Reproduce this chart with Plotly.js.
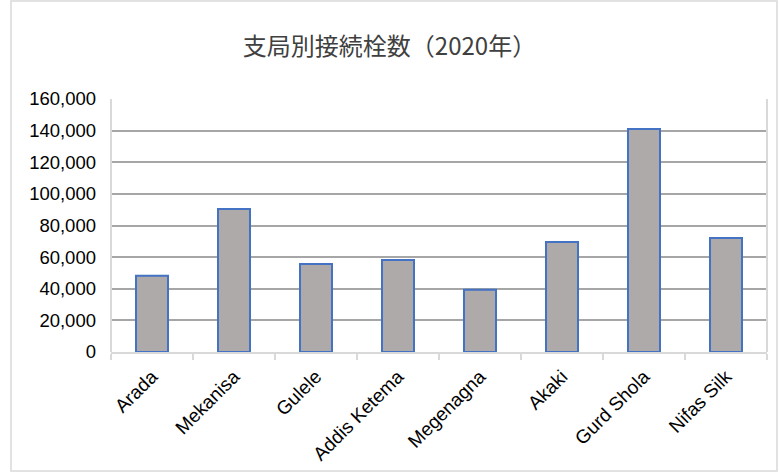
<!DOCTYPE html>
<html><head><meta charset="utf-8">
<script src="https://cdn.plot.ly/plotly-3.0.1.min.js"></script>
<style>html,body{margin:0;padding:0;background:#fff;}#chart{width:779px;height:472px;}</style>
</head><body><div id="chart"></div>
<script>
const categories = ["Arada","Mekanisa","Gulele","Addis Ketema","Megenagna","Akaki","Gurd Shola","Nifas Silk"];
const values = [48200, 90500, 55700, 58200, 39300, 69600, 141000, 72100];
const yTicks = [0,20000,40000,60000,80000,100000,120000,140000,160000];
const yTickLabels = ["0","20,000","40,000","60,000","80,000","100,000","120,000","140,000","160,000"];
const titleText = "支局別接続栓数（2020年）";

const W=779,H=472,L=111,R=12,T=99,B=120;
const pw=W-L-R, ph=H-T-B;
const px=x=>(x-L)/pw, py=y=>(H-B-y)/ph;

Plotly.newPlot('chart',[{
  type:'bar', x:categories, y:values,
  marker:{color:'#aeaaaa', line:{color:'#4472c4', width:2}},
  width:0.39, hoverinfo:'x+y'
}],{
  width:W,height:H,
  margin:{l:L,r:R,t:T,b:B,pad:0},
  paper_bgcolor:'#fff', plot_bgcolor:'#fff',
  title:{text:titleText, x:0.5, xref:'container', y:1-47/H, yref:'container', yanchor:'middle',
    font:{family:'"Noto Sans CJK JP", sans-serif', size:24, color:'#404040'}},
  font:{family:'"Liberation Sans", Arial, sans-serif', size:18, color:'#000'},
  showlegend:false,
  xaxis:{tickangle:-45, showline:true, linecolor:'#d9d9d9', linewidth:2, ticks:'outside', ticklen:6, tickcolor:'#d9d9d9', tickwidth:2,
    tickson:'boundaries', showgrid:false, tickfont:{size:19}, ticklabelstandoff:4, mirror:false},
  yaxis:{range:[0,160000], tickvals:yTicks, ticktext:yTickLabels, showgrid:true, gridcolor:'#a6a6a6', gridwidth:2,
    zeroline:false, showline:false, ticks:'', ticklabelstandoff:14, tickfont:{size:18.5}},
  shapes:[
    {type:'line', xref:'paper', yref:'paper', x0:0, x1:0, y0:0, y1:1, line:{color:'#d9d9d9', width:2}},
    {type:'line', xref:'paper', yref:'paper', x0:1, x1:1, y0:0, y1:1, line:{color:'#d9d9d9', width:2}},
    {type:'rect', xref:'paper', yref:'paper', x0:px(11), x1:px(777), y0:py(471), y1:py(1), line:{color:'#d9d9d9', width:1.5}, layer:'below'}
  ]
},{staticPlot:true});
</script></body></html>
